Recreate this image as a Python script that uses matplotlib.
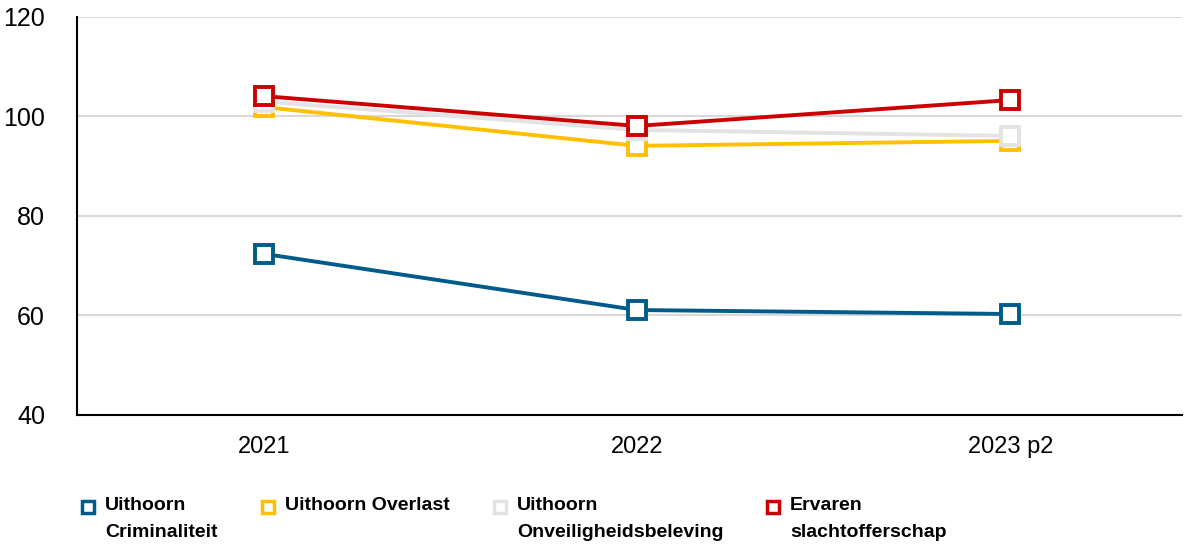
import matplotlib.pyplot as plt
from matplotlib.lines import Line2D

plt.rcParams['font.family'] = ['Liberation Sans', 'DejaVu Sans']

years = ['2021', '2022', '2023 p2']
criminaliteit = [72.4, 61.1, 60.3]
overlast = [101.9, 94.1, 95.1]
onveiligheid = [103.0, 97.3, 96.1]
slachtoffer = [104.1, 98.1, 103.3]

labels = ['Uithoorn\nCriminaliteit', 'Uithoorn Overlast',
          'Uithoorn\nOnveiligheidsbeleving', 'Ervaren\nslachtofferschap']
colors = ['#005b8a', '#ffc000', '#e3e3e3', '#cc0000']
series = [criminaliteit, overlast, onveiligheid, slachtoffer]

W, H = 1196, 546
fig = plt.figure(figsize=(W / 100, H / 100), dpi=100)
ax = fig.add_axes([77 / W, 1 - 415 / H, (1182 - 77) / W, (415 - 17) / H])

x = range(len(years))
for vals, c in zip(series, colors):
    ax.plot(x, vals, color=c, lw=2.8, marker='s', ms=13, mfc='white',
            mec=c, mew=2.8, zorder=3)

ax.set_ylim(40, 120)
ax.set_yticks([40, 60, 80, 100, 120])
ax.set_xlim(-0.5, 2.46)
ax.set_xticks(list(x))
ax.set_xticklabels(years)
ax.tick_params(axis='x', length=0, labelsize=17, pad=15)
ax.tick_params(axis='y', length=0, labelsize=18, pad=23)
ax.grid(axis='y', color='#d9d9d9', lw=1.5)
ax.set_axisbelow(True)
for s in ['top', 'right']:
    ax.spines[s].set_visible(False)
ax.spines['left'].set_linewidth(1.5)
ax.spines['bottom'].set_linewidth(1.5)

# legend at the bottom: square marker + bold label (wrapped)
mark_x = [88, 268, 500, 773]
for lab, c, mx in zip(labels, colors, mark_x):
    fig.add_artist(Line2D([mx / W], [1 - 507 / H], transform=fig.transFigure,
                          ls='none', marker='s', ms=9, mfc='white', mec=c, mew=2.5))
    fig.text((mx + 17) / W, 1 - 497 / H, lab, ha='left', va='top',
             fontsize=14, fontweight='bold', linespacing=1.75)

fig.savefig('out.png', dpi=100)
